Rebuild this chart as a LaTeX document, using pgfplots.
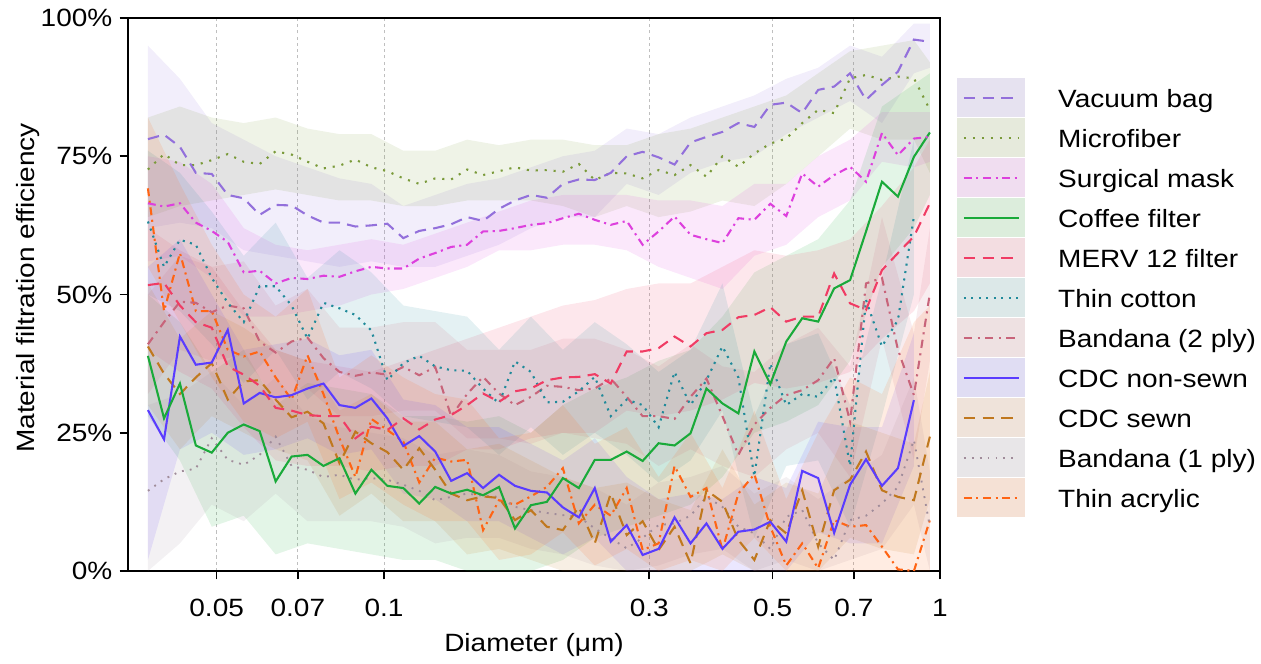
\documentclass[border=0pt]{standalone}
\usepackage{fontspec}
\setmainfont{Liberation Sans}[FakeStretch=1.12]
\usepackage{pgfplots}
\usepackage{pgfplotstable}
\pgfplotsset{compat=1.18}
\usepgfplotslibrary{fillbetween}

\definecolor{cvac}{RGB}{147,112,219}
\definecolor{cmic}{RGB}{122,154,58}
\definecolor{csur}{RGB}{221,64,221}
\definecolor{ccof}{RGB}{26,170,58}
\definecolor{cmerv}{RGB}{240,60,100}
\definecolor{ccot}{RGB}{32,138,154}
\definecolor{cbtwo}{RGB}{200,100,122}
\definecolor{ccns}{RGB}{90,60,255}
\definecolor{ccs}{RGB}{192,120,30}
\definecolor{cbone}{RGB}{160,140,154}
\definecolor{cacr}{RGB}{255,100,20}
% legend swatches
\definecolor{svac}{HTML}{E6E2F0}
\definecolor{smic}{HTML}{E6EADC}
\definecolor{ssur}{HTML}{F0DDF0}
\definecolor{scof}{HTML}{DCEDDC}
\definecolor{smerv}{HTML}{F3DDE1}
\definecolor{scot}{HTML}{DCE8E8}
\definecolor{sbtwo}{HTML}{EEE1E2}
\definecolor{scns}{HTML}{E0DDF3}
\definecolor{scs}{HTML}{EFE3DA}
\definecolor{sbone}{HTML}{E8E6E8}
\definecolor{sacr}{HTML}{F5E1D5}

\tikzset{
  lvac/.style={color=cvac, line width=1pt, dash pattern=on 5.5pt off 3.5pt},
  lmic/.style={color=cmic, line width=1pt, dash pattern=on 1pt off 3.3pt},
  lsur/.style={color=csur, line width=1pt, dash pattern=on 3.8pt off 2.2pt on 1pt off 2.2pt},
  lcof/.style={color=ccof, line width=1pt},
  lmerv/.style={color=cmerv, line width=1pt, dash pattern=on 5.5pt off 3.5pt},
  lcot/.style={color=ccot, line width=1pt, dash pattern=on 1pt off 2.6pt},
  lbtwo/.style={color=cbtwo, line width=1pt, dash pattern=on 4pt off 2.6pt on 1pt off 2.6pt},
  lcns/.style={color=ccns, line width=1pt},
  lcs/.style={color=ccs, line width=1pt, dash pattern=on 5.5pt off 3.5pt},
  lbone/.style={color=cbone, line width=0.9pt, dash pattern=on 0.9pt off 2.9pt},
  lacr/.style={color=cacr, line width=1pt, dash pattern=on 3.8pt off 2.2pt on 1pt off 2.2pt},
}

% mean efficiency (%) per material
\pgfplotstableread{
x        vac   mic   sur   cof   merv  cot   btwo  cns   cs    bone  acr
0.03762  78.1  72.6  66.5  38.9  51.7  63.2  41.0  29.1  40.6  14.5  69.2
0.04021  78.9  75.4  65.9  27.6  52.1  55.0  45.0  23.8  35.7  16.6  47.0
0.04295  76.7  73.4  66.5  33.9  48.0  59.9  48.7  42.4  32.0  18.0  57.5
0.04587  72.0  73.4  63.0  22.7  45.0  59.0  48.5  37.3  35.0  18.5  47.0
0.04900  71.8  74.3  61.5  21.4  44.0  53.0  46.8  37.7  37.6  24.0  47.0
0.05236  68.0  75.4  59.5  25.0  37.0  48.5  48.0  43.6  31.0  20.1  40.0
0.05594  67.4  74.0  54.0  26.5  35.5  45.0  47.5  30.3  34.3  19.2  38.8
0.05975  64.4  73.6  54.3  25.3  33.5  51.5  41.5  32.2  34.5  21.0  39.7
0.06384  66.2  75.9  52.0  16.2  29.5  51.5  39.5  31.4  31.0  24.3  35.0
0.06820  66.1  75.3  53.0  20.7  29.0  48.0  41.5  31.8  27.8  19.0  31.0
0.07286  64.3  74.0  52.8  21.0  28.2  42.0  42.2  33.0  28.8  18.3  39.0
0.07783  63.0  72.8  53.4  19.0  28.0  48.5  38.5  33.9  26.7  17.0  32.0
0.08316  63.0  73.3  53.2  20.4  28.0  47.5  36.0  30.0  19.5  17.4  24.0
0.08883  62.3  74.4  54.2  14.0  24.0  46.3  35.3  29.5  25.2  16.5  17.0
0.09490  62.5  73.0  55.0  18.3  26.1  43.5  35.9  31.2  23.1  16.8  27.5
0.10139  62.8  72.3  54.7  15.4  25.5  34.5  35.5  27.6  21.5  16.5  25.5
0.10832  60.2  71.0  54.7  15.0  27.6  37.6  36.9  22.6  18.3  15.6  23.4
0.11571  61.5  70.0  56.5  12.2  25.6  38.9  35.4  24.4  22.2  14.5  16.0
0.12362  62.0  71.0  57.5  15.2  27.4  37.0  36.9  21.6  18.3  12.8  20.5
0.13207  62.7  70.8  58.6  14.0  28.2  36.3  28.0  16.3  14.0  13.4  19.8
0.14109  64.0  72.6  59.0  14.7  30.0  36.2  32.0  17.7  12.8  14.0  20.1
0.15073  63.3  71.6  61.4  13.7  32.1  33.0  35.1  15.0  13.5  13.6   7.4
0.16103  65.5  72.3  61.5  15.2  30.6  30.3  32.1  17.4  13.2  13.4  12.8
0.17203  67.0  73.0  62.0   7.7  32.5  37.9  30.0  15.4   9.2  11.6  12.0
0.18378  68.0  72.4  62.6  11.9  33.0  36.0  31.5  14.5  11.0  11.0  13.5
0.19634  67.5  72.5  62.9  12.5  34.5  30.5  33.5  14.2   8.0  10.5  15.2
0.20975  70.0  72.2  63.8  16.8  35.0  30.6  33.3  11.5   7.4  10.1  18.6
0.22408  70.8  73.6  64.6  15.0  35.1  32.5  32.7   9.7  11.6   9.8   8.6
0.23939  70.7  70.7  63.5  20.1  35.6  35.1  33.0  15.0   5.0   7.7  12.0
0.25574  72.0  72.0  62.6  20.1  33.9  28.0  34.8   5.3  14.0   5.9  10.0
0.27322  75.0  71.9  63.3  21.6  39.7  31.0  31.5   8.3   6.5   4.1  15.0
0.29188  75.8  71.0  59.0  19.9  39.7  30.0  28.0   2.9   9.0   6.0   3.8
0.31182  74.8  72.5  61.4  23.1  40.3  26.0  28.0   4.0   3.8   8.3   5.0
0.33312  73.5  71.6  64.1  22.7  42.4  36.0  27.5   9.7   8.0   8.6  19.0
0.35588  77.5  73.4  60.8  24.9  40.6  30.0  31.5   5.0   1.4  10.0  13.4
0.38019  78.5  71.3  60.0  33.0  43.0  34.5  34.8   8.6  14.6  13.4  15.0
0.40616  79.4  75.0  59.3  30.3  43.6  40.6  28.0   4.0  12.5  11.6   3.8
0.43391  81.0  73.1  63.8  28.5  45.9  35.0  21.0   7.1   5.6   8.0  14.0
0.46355  80.3  75.5  63.5  39.7  46.3  17.1  26.5   7.5   2.0   6.8  17.5
0.49522  84.3  77.3  66.4  33.8  47.7  37.5  29.5   8.9   9.2   4.0   8.0
0.52905  84.7  78.2  64.2  41.5  45.1  30.0  31.8   5.3   6.8   9.8   1.0
0.56519  82.8  81.0  71.9  45.7  46.0  32.0  32.7  18.1  14.6  11.0   5.0
0.60381  87.0  83.4  69.5  45.1  46.0  31.5  34.5  16.8   4.4   5.0   0.5
0.64506  87.6  82.8  71.6  51.1  53.8  35.0  38.5   6.9  14.6   2.0   9.2
0.68912  90.0  89.1  73.1  52.6  48.4  19.0  27.0  15.6  16.5   9.2   8.0
0.73621  85.2  89.7  70.4  61.4  47.2  49.0  52.0  20.2  21.6  10.0   8.3
0.78650  87.9  88.8  79.2  70.4  54.4  40.6  53.0  15.4  14.6  12.2   4.4
0.84023  90.3  89.4  75.2  67.7  57.5  45.4  40.0  18.6  13.4  15.2   0.3
0.89763  96.1  89.1  78.2  74.9  60.5  64.1  31.8  30.9  12.8  23.7   0.0
0.95897  95.7  83.4  78.5  79.3  66.5  nan   50.2  nan   24.3   8.0   9.2
}\maintab

% lower / upper edges of the shaded ranges
\pgfplotstableread{
x        vl vh  ml mh  sl sh  cl ch  rl rh  tl th  pl ph  nl nh  wl wh  ql qh  al ah
0.03762  62 95  64 82  56 75  28 50  40 62  50 76  32 50   2 55  30 52   0 30  55 82
0.04295  63 89  66 84  57 74  20 45  36 58  47 72  40 57  22 60  22 42   5 32  45 70
0.04900  62 81  67 82  53 70   8 36  33 55  41 65  38 55  25 50  28 47  12 36  35 59
0.05594  58 78  68 81  46 62  10 40  26 47  34 57  39 56  21 40  25 44   9 30  27 50
0.06384  57 75  69 82  46 59   3 30  20 40  40 63  31 48  22 41  22 40  14 35  24 46
0.07286  56 73  68 80  47 58   5 34  19 38  31 53  33 51  24 42  20 38   9 28  27 51
0.08316  55 71  67 79  48 59   4 33  19 37  36 58  28 44  21 39  10 29   9 26  13 35
0.09490  56 70  67 79  50 60   3 32  18 36  33 54  28 44  22 40  14 32   9 25  16 39
0.10832  55 66  66 76  51 59   2 28  19 38  28 48  29 45  14 31   9 27   8 24  12 35
0.12362  55 68  66 76  53 61   2 28  19 40  27 47  29 45  13 30   9 27   5 21   9 32
0.14109  57 70  67 78  55 63   0 27  22 42  26 46  24 40   9 26   3 22   6 22   9 31
0.16103  59 71  67 77  58 65   0 28  22 44  21 40  24 40   9 26   4 23   6 21   2 24
0.18378  62 73  67 78  58 67   0 25  24 46  26 46  23 40   6 23   2 20   4 18   3 25
0.20975  64 75  66 78  59 68   2 30  25 48  21 40  25 42   3 20   0 17   3 17   7 30
0.23939  64 76  64 77  59 68   6 33  25 49  25 45  24 42   6 24   0 15   1 15   1 23
0.27322  70 80  66 77  58 68   8 35  29 51  21 41  23 40   0 17   0 16   0 12   4 26
0.31182  68 79  64 79  55 67  10 38  28 52  16 36  19 37   0 13   0 13   1 16   0 17
0.35588  72 82  65 80  53 67  12 40  29 52  20 40  22 41   0 14   0 11   3 17   2 25
0.40616  74 84  67 82  51 66  17 46  31 55  29 52  19 37   0 13   3 22   4 19   0 15
0.46355  75 86  66 84  57 70  25 54  34 58   6 28  17 36   0 17   0 12   0 14   6 29
0.52905  79 89  70 86  59 70  27 57  33 57  19 41  22 41   0 15   0 16   2 17   0 13
0.60381  82 91  75 90  64 75  30 60  34 58  20 43  25 44   7 27   0 14   0 13   0 25
0.68912  85 95  80 94  67 78  38 67  36 60   8 30  17 37   5 26   6 27   2 17   0 35
0.78650  81 93  78 95  74 83  55 84  42 66  28 53  42 64   5 26   4 25   4 21   0 32
0.89763  90 99  78 96  73 83  62 88  47 73  50 78  20 43  19 43   3 23  12 35   0 45
0.95897  91 99  72 92  74 83  68 90  52 78  50 78  38 62  19 43  13 36   0 18   0 48
}\bandtab

% shaded range between two columns of \bandtab
\newcommand{\drawband}[4][]{
  \addplot[name path=#2, draw=none, forget plot, #1] table[x=x, y=#2] {\bandtab};
  \addplot[name path=#3, draw=none, forget plot, #1] table[x=x, y=#3] {\bandtab};
  \addplot[fill=#4, fill opacity=0.12, draw=none, forget plot] fill between[of=#2 and #3];
}
% legend entry: pale box with the line style on top
\newcommand{\legimg}[2]{
  \addlegendimage{legend image code/.code={
      \fill[#1] (0pt,-4.3pt) rectangle (32.2pt,13.9pt);
      \draw[#2] (2.9pt,4.8pt) -- (29.3pt,4.8pt);}}
}

\begin{document}
\begin{tikzpicture}[font=\fontsize{12}{14}\selectfont]
\begin{axis}[
    at={(0,0)}, anchor=south west,
    scale only axis, width=389.76pt, height=265.44pt,
    font=\fontsize{12}{14}\selectfont,
    xmode=log, xmin=0.03464, xmax=1,
    ymin=0, ymax=100,
    xtick={0.05,0.07,0.1,0.3,0.5,0.7,1},
    xticklabels={0.05,0.07,0.1,0.3,0.5,0.7,1},
    ytick={0,25,50,75,100},
    yticklabels={0\%,25\%,50\%,75\%,100\%},
    xminorticks=false,
    tick align=outside, tick pos=left,
    major tick length=4pt,
    tick style={black, line width=0.8pt},
    axis line style={line width=0.9pt},
    xmajorgrids,
    major grid style={gray!50, line width=0.5pt, dash pattern=on 1.5pt off 1.5pt},
    xticklabel style={yshift=-6pt},
    xlabel={Diameter (μm)},
    ylabel={Material filtration efficiency},
    xlabel style={at={(axis description cs:0.5,-0.133)}, anchor=center},
    ylabel style={at={(axis description cs:-0.1232,0.5118)}, anchor=center},
    no marks,
    legend style={at={(1.0209,0.8915)}, anchor=north west, draw=none, fill=none,
        inner sep=0pt, row sep=0.6pt, column sep=15.8pt,
        nodes={inner sep=0pt}, cells={anchor=base west},
        font=\fontsize{12}{14}\selectfont},
]
    \drawband{vl}{vh}{cvac}
    \drawband{ml}{mh}{cmic}
    \drawband{sl}{sh}{csur}
    \drawband{cl}{ch}{ccof}
    \drawband{rl}{rh}{cmerv}
    \drawband[skip coords between index={25}{26}]{tl}{th}{ccot}
    \drawband{pl}{ph}{cbtwo}
    \drawband[skip coords between index={25}{26}]{nl}{nh}{ccns}
    \drawband{wl}{wh}{ccs}
    \drawband{ql}{qh}{cbone}
    \drawband{al}{ah}{cacr}

    \addplot[lacr, forget plot] table[x=x, y=acr] {\maintab};
    \addplot[lbone, forget plot] table[x=x, y=bone] {\maintab};
    \addplot[lcs, forget plot] table[x=x, y=cs] {\maintab};
    \addplot[lcns, forget plot] table[x=x, y=cns] {\maintab};
    \addplot[lbtwo, forget plot] table[x=x, y=btwo] {\maintab};
    \addplot[lcot, forget plot] table[x=x, y=cot] {\maintab};
    \addplot[lmerv, forget plot] table[x=x, y=merv] {\maintab};
    \addplot[lcof, forget plot] table[x=x, y=cof] {\maintab};
    \addplot[lsur, forget plot] table[x=x, y=sur] {\maintab};
    \addplot[lmic, forget plot] table[x=x, y=mic] {\maintab};
    \addplot[lvac, forget plot] table[x=x, y=vac] {\maintab};

    \legimg{svac}{lvac}  \addlegendentry{Vacuum bag}
    \legimg{smic}{lmic}  \addlegendentry{Microfiber}
    \legimg{ssur}{lsur}  \addlegendentry{Surgical mask}
    \legimg{scof}{lcof}  \addlegendentry{Coffee filter}
    \legimg{smerv}{lmerv} \addlegendentry{MERV 12 filter}
    \legimg{scot}{lcot}  \addlegendentry{Thin cotton}
    \legimg{sbtwo}{lbtwo} \addlegendentry{Bandana (2 ply)}
    \legimg{scns}{lcns}  \addlegendentry{CDC non-sewn}
    \legimg{scs}{lcs}    \addlegendentry{CDC sewn}
    \legimg{sbone}{lbone} \addlegendentry{Bandana (1 ply)}
    \legimg{sacr}{lacr}  \addlegendentry{Thin acrylic}
\end{axis}
\path (-61.44pt,-42.24pt) rectangle (543.84pt,274.08pt);
\end{tikzpicture}
\end{document}
